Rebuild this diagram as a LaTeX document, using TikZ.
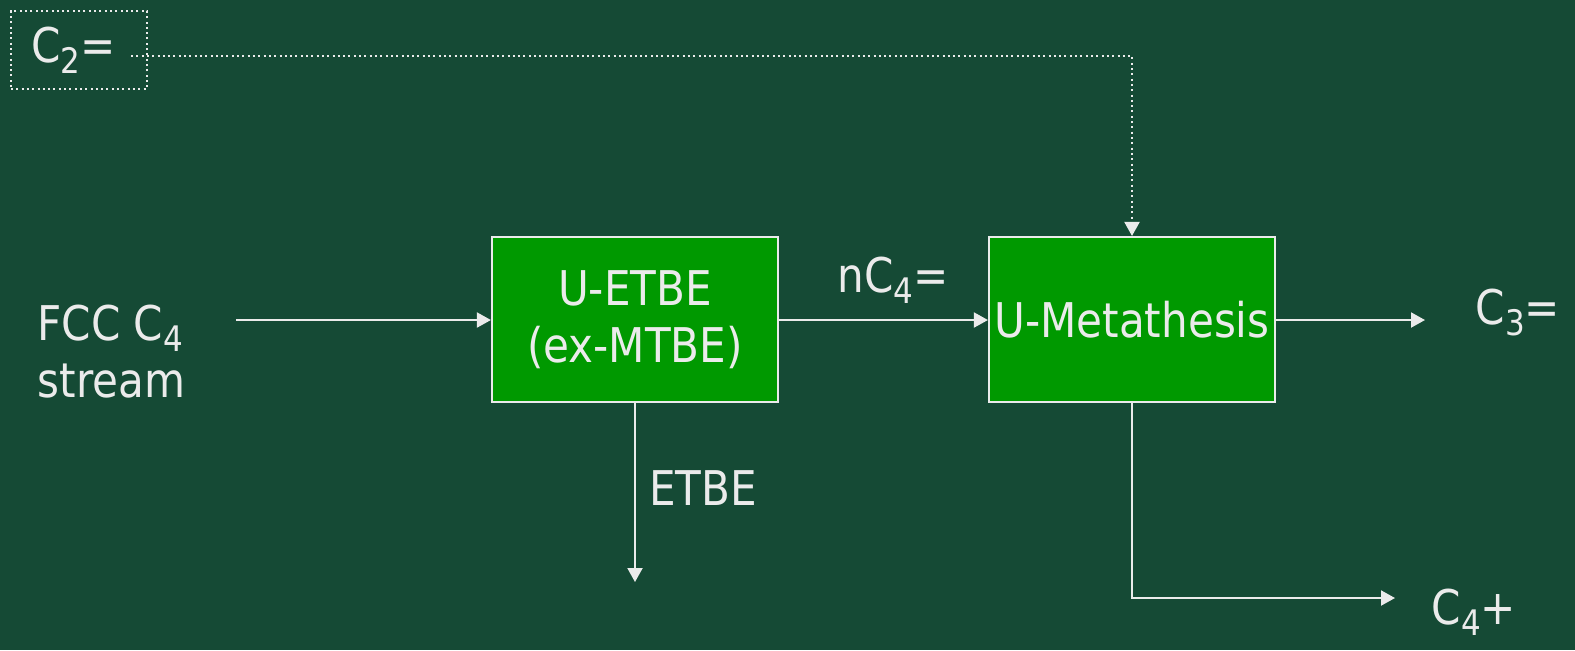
\documentclass[tikz,border=0pt]{standalone}
\usepackage{fontspec}
\setmainfont{DejaVu Sans}[FakeStretch=0.88]
\usetikzlibrary{arrows.meta}
\definecolor{bggreen}{RGB}{21,74,53}
\definecolor{boxgreen}{RGB}{0,153,0}
\definecolor{linegrey}{RGB}{235,235,235}
\newcommand{\lowsub}[1]{\raisebox{-0.11cm}{\fontsize{10}{10}\selectfont #1}}

\begin{document}
\begin{tikzpicture}[x=0.01cm,y=-0.01cm]
\tikzset{unitbox/.style = {rectangle, fill=boxgreen, draw=linegrey, line width=0.02cm, minimum width=2.86cm, minimum height=1.65cm, align=center, text=linegrey, inner sep=0pt}}
\tikzset{lbl/.style = {text=linegrey, inner sep=0pt, align=left}}
\tikzset{flow/.style = {draw=linegrey, line width=0.02cm, -{Triangle[length=0.14cm, width=0.15cm]}}}
\tikzset{dotline/.style = {draw=linegrey, line width=0.02cm, dash pattern=on 0.02cm off 0.033cm}}
\fill[bggreen] (0,0) rectangle (1575,650);
\useasboundingbox (0,0) rectangle (1575,650);
\fontsize{13.6}{16.2}\selectfont

    \node[unitbox] (etbe) at (635,319.5) {U-ETBE\\(ex-MTBE)};
    \node[unitbox] (meta) at (1132,319.5) {U-Metathesis};

    \node[lbl, dotline, text width=0.96cm, inner xsep=0.2cm, minimum height=0.78cm, anchor=west] (c2) at (10,50) {C\lowsub{2}=};
    \node[lbl, anchor=west] (feed) at (37,352) {FCC C\lowsub{4}\\stream};
    \node[lbl] (nc4) at (893,280) {nC\lowsub{4}=};
    \node[lbl] (c3) at (1518,312) {C\lowsub{3}=};
    \node[lbl] (c4p) at (1474,612) {C\lowsub{4}+};
    \node[lbl] (etbeout) at (703,488) {ETBE};

    \coordinate (c2out) at (131,56);
    \coordinate (feedout) at (236,320);
    \coordinate (c3in) at (1425,320);
    \coordinate (etbeend) at (635,582);
    \coordinate (c4bend) at (1132,598);
    \coordinate (c4in) at (1395,598);

\draw[dotline, -{Triangle[length=0.14cm, width=0.15cm]}] (c2out) -| (meta.north);
\draw[flow] (feedout) -- (feedout -| etbe.west);
\draw[flow] (etbe.east |- feedout) -- (meta.west |- feedout);
\draw[flow] (meta.east |- c3in) -- (c3in);
\draw[flow] (etbe.south) -- (etbeend);
\draw[flow] (meta.south) -- (c4bend) -- (c4in);

\end{tikzpicture}
\end{document}
